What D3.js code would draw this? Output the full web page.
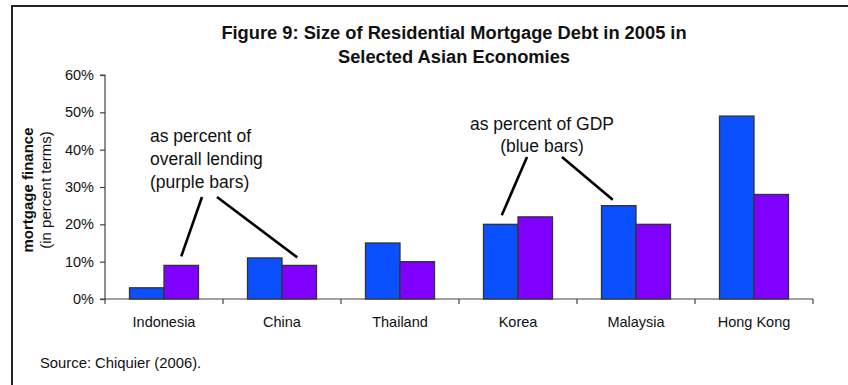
<!DOCTYPE html>
<html>
<head>
<meta charset="utf-8">
<script src="https://cdn.jsdelivr.net/npm/d3@7"></script>
<style>
  html, body { margin: 0; padding: 0; background: #fff; }
  svg { display: block; font-family: "Liberation Sans", Arial, sans-serif; }
</style>
</head>
<body>
<svg id="chart" width="848" height="385"></svg>
<script>
const categories = ["Indonesia", "China", "Thailand", "Korea", "Malaysia", "Hong Kong"];
const gdpShare = [0.03, 0.11, 0.15, 0.20, 0.25, 0.49];        // blue bars
const lendingShare = [0.09, 0.09, 0.10, 0.22, 0.20, 0.28];    // purple bars
const seriesNames = ["gdp", "lending"];
const seriesColors = ["#0a50ff", "#8000ff"];
const yTicks = [0, 0.1, 0.2, 0.3, 0.4, 0.5, 0.6];
const titleLines = ["Figure 9: Size of Residential Mortgage Debt in 2005 in", "Selected Asian Economies"];

const svg = d3.select("#chart");
const W = 848, H = 385;
const plotLeft = 105, plotRight = 813, plotTop = 75, plotBottom = 299;

// frame (left and top edges visible)
svg.append("path")
  .attr("d", `M12,${H} L12,6 L${W},6`)
  .attr("fill", "none").attr("stroke", "#222").attr("stroke-width", 2);

// title
svg.append("g").selectAll("text").data(titleLines).join("text")
  .attr("x", 454).attr("y", (d, i) => 39 + i * 24)
  .attr("text-anchor", "middle")
  .attr("font-weight", "bold").attr("font-size", 18.3)
  .attr("fill", "#111")
  .text(d => d);

const x = d3.scaleBand().domain(categories).range([plotLeft, plotRight]).padding(0);
const x1 = d3.scaleBand().domain(seriesNames).range([24.5, x.bandwidth() - 24.5]).padding(0);
const y = d3.scaleLinear().domain([0, 0.6]).range([plotBottom, plotTop]);

// y axis
const yAxis = d3.axisLeft(y).tickValues(yTicks).tickFormat(d3.format(".0%")).tickSize(5).tickPadding(6);
const gy = svg.append("g").attr("transform", `translate(${plotLeft},0)`).call(yAxis);
gy.select(".domain").attr("stroke", "#444").attr("stroke-width", 1.2).attr("d", `M-5,${plotTop}H0V${plotBottom}H-5`);
gy.selectAll(".tick line").attr("stroke", "#444").attr("stroke-width", 1.2);
gy.selectAll(".tick text").attr("font-size", 14.5).attr("fill", "#111")
  .attr("font-family", "Liberation Sans, Arial, sans-serif");

// x axis line and boundary ticks
const gx = svg.append("g");
gx.append("line").attr("x1", plotLeft).attr("x2", plotRight).attr("y1", plotBottom).attr("y2", plotBottom)
  .attr("stroke", "#444").attr("stroke-width", 1.2);
const boundaries = categories.map(c => x(c)).concat([plotRight]);
gx.selectAll("line.tk").data(boundaries).join("line").attr("class", "tk")
  .attr("x1", d => d).attr("x2", d => d).attr("y1", plotBottom).attr("y2", plotBottom + 5)
  .attr("stroke", "#444").attr("stroke-width", 1.2);
gx.selectAll("text").data(categories).join("text")
  .attr("x", d => x(d) + x.bandwidth() / 2).attr("y", 327)
  .attr("text-anchor", "middle").attr("font-size", 14.5).attr("fill", "#111")
  .text(d => d);

// bars
const rows = categories.map((c, i) => ({ cat: c, vals: [gdpShare[i], lendingShare[i]] }));
const groups = svg.append("g").selectAll("g").data(rows).join("g")
  .attr("transform", d => `translate(${x(d.cat)},0)`);
groups.selectAll("rect").data(d => d.vals.map((v, j) => ({ key: seriesNames[j], v, j }))).join("rect")
  .attr("x", d => x1(d.key)).attr("width", x1.bandwidth())
  .attr("y", d => y(d.v)).attr("height", d => y(0) - y(d.v))
  .attr("fill", d => seriesColors[d.j])
  .attr("stroke", "#333").attr("stroke-width", 1.3);

// y axis title
const yt = svg.append("g").attr("transform", "translate(0,190)");
yt.append("text").attr("transform", "translate(33,0) rotate(-90)")
  .attr("text-anchor", "middle").attr("font-weight", "bold").attr("font-size", 15).attr("fill", "#111")
  .text("mortgage finance");
yt.append("text").attr("transform", "translate(51,0) rotate(-90)")
  .attr("text-anchor", "middle").attr("font-size", 15).attr("fill", "#111")
  .text("(in percent terms)");

// annotations
const ann = svg.append("g").attr("font-size", 17.5).attr("fill", "#111");
["as percent of", "overall lending", "(purple bars)"].forEach((t, i) => {
  ann.append("text").attr("x", 150).attr("y", 142 + i * 23).text(t);
});
["as percent of GDP", "(blue bars)"].forEach((t, i) => {
  ann.append("text").attr("x", 542).attr("y", 130 + i * 22).attr("text-anchor", "middle").text(t);
});

function barTop(cat, key) {
  const i = categories.indexOf(cat);
  const v = key === "gdp" ? gdpShare[i] : lendingShare[i];
  return { cx: x(cat) + x1(key) + x1.bandwidth() / 2, ty: y(v) };
}
const leaders = [
  { sx: 202, sy: 197, b: barTop("Indonesia", "lending"), dx: 0, dy: -9 },
  { sx: 217, sy: 197, b: barTop("China", "lending"), dx: -2, dy: -8 },
  { sx: 527, sy: 157, b: barTop("Korea", "gdp"), dx: 1, dy: -9 },
  { sx: 562, sy: 157, b: barTop("Malaysia", "gdp"), dx: -6, dy: -6 }
];
svg.append("g").selectAll("line").data(leaders).join("line")
  .attr("x1", d => d.sx).attr("y1", d => d.sy)
  .attr("x2", d => d.b.cx + d.dx).attr("y2", d => d.b.ty + d.dy)
  .attr("stroke", "#000").attr("stroke-width", 2.6);

// source
svg.append("text").attr("x", 40).attr("y", 368).attr("font-size", 14.8).attr("fill", "#111")
  .text("Source: Chiquier (2006).");
</script>
</body>
</html>
